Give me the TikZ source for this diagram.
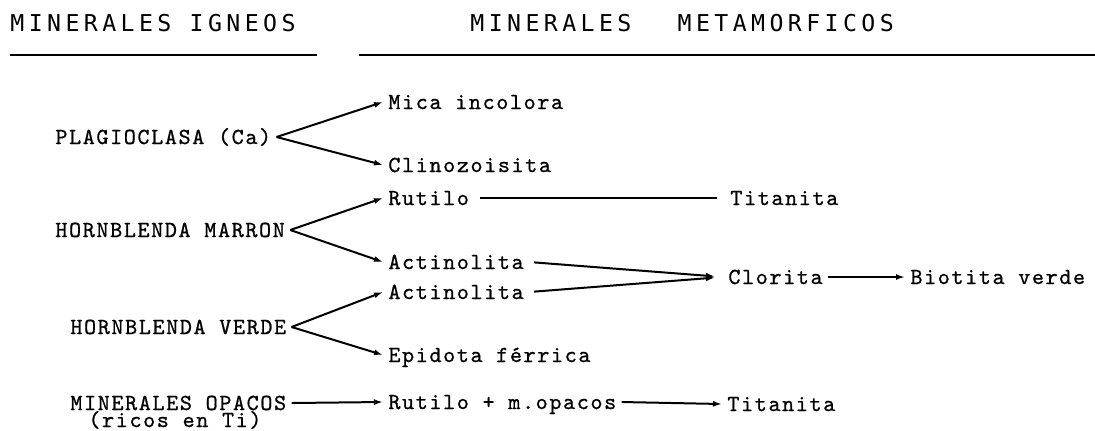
\documentclass[tikz,border=0pt]{standalone}
\usepackage{fontspec}
\newfontfamily\maquina[LetterSpace=7,FakeBold=0.8]{lmmono10-regular.otf}
\newfontfamily\hdrfont[LetterSpace=19]{DejaVu Sans Mono}
\usetikzlibrary{arrows.meta,positioning}
\tikzset{
  mineral/.style={font=\maquina\fontsize{11.5pt}{13pt}\selectfont,inner sep=2.5pt,anchor=west,text height=9pt,text depth=2pt},
  titulo/.style={font=\hdrfont\fontsize{11.6pt}{14pt}\selectfont,inner sep=0pt,anchor=base west},
  flecha/.style={line width=1pt,-{Latex[length=4.5pt,width=3pt]}},
  raya/.style={line width=1pt},
}

\begin{document}
\begin{tikzpicture}[x=0.5pt,y=-0.5pt]
\useasboundingbox (0,0) rectangle (1095,430);
    % encabezado
    \node[titulo] (igneos) at (10,31.5){MINERALES~IGNEOS};
    \node[titulo] (metam) at (470,31.5){MINERALES~\hspace{14pt}METAMORFICOS};
    \draw[line width=1.2pt] (10,55)--(317,55);
    \draw[line width=1.2pt] (359,55)--(1095,55);
    % minerales igneos
    \node[mineral] (plag) at (50,137){PLAGIOCLASA (Ca)};
    \node[mineral] (marron) at (50,230){HORNBLENDA MARRON};
    \node[mineral] (verde) at (65,327){HORNBLENDA VERDE};
    \node[mineral] (opac) at (65,403){MINERALES OPACOS};
    \node[mineral] (ricos) at (83,420){(ricos en Ti)};
    % minerales metamorficos
    \node[mineral] (mica) at (383,102){Mica incolora};
    \node[mineral] (clino) at (383,165){Clinozoisita};
    \node[mineral] (rut) at (383,198){Rutilo};
     \node[mineral] (tit) at (725,198){Titanita};
    \node[mineral] (act) at (383,262){Actinolita};
    \node[mineral] (actb) at (383,292){Actinolita};
     \node[mineral] (clor) at (723,277){Clorita};
     \node[mineral] (bio) at (905,277){Biotita verde};
    \node[mineral] (epi) at (383,355){Epidota férrica};
    \node[mineral] (rutb) at (383,402){Rutilo + m.opacos};
     \node[mineral] (titb) at (722,404){Titanita};
    % flechas
    \draw[flecha] (plag.east)--(mica.west);
    \draw[flecha] (plag.east)--(clino.west);
    \draw[flecha] (marron.east)--(rut.west);
    \draw[flecha] (marron.east)--(act.west);
    \draw[flecha] (verde.east)--(actb.west);
    \draw[flecha] (verde.east)--(epi.west);
    \draw[flecha] (opac.east)--(rutb.west);
    \draw[raya,shorten <=3pt,shorten >=4pt] (rut.east)--(tit.west);
    \draw[flecha,shorten <=2.5pt,shorten >=4pt] (act.east)--(clor.west);
    \draw[flecha,shorten <=2.5pt,shorten >=4pt] (actb.east)--(clor.west);
    \draw[flecha] (clor.east)--(bio.west);
    \draw[flecha] (rutb.east)--(titb.west);
\end{tikzpicture}
\end{document}
